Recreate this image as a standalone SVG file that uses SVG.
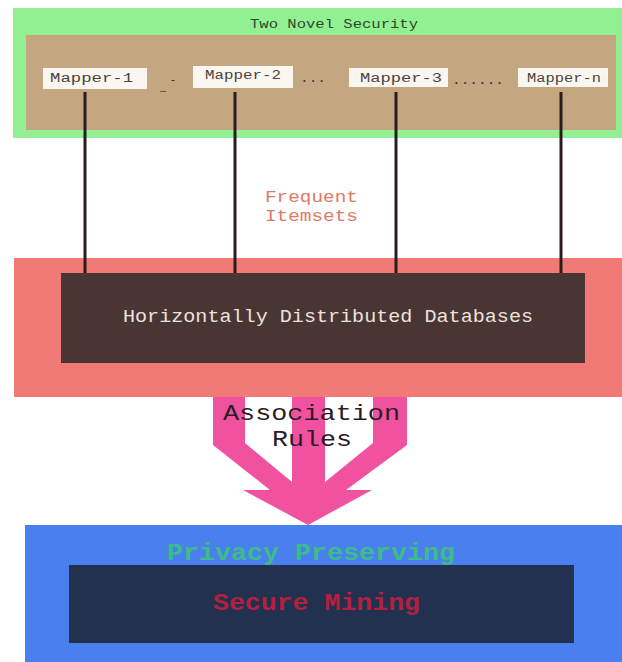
<svg xmlns="http://www.w3.org/2000/svg" width="622" height="662" viewBox="0 0 622 662">
<style>
text { font-family: "Liberation Mono", "DejaVu Sans Mono", monospace; }
.mapbox { fill: #faf6f0; }
.maptxt { font-size: 12px; fill: #4a4440; }
.link { stroke: #2a1c1c; stroke-width: 3; fill: none; }
.dots { font-size: 13px; fill: #3a3430; }
</style>
<rect width="622" height="662" fill="#ffffff"/>

<g id="security-panel">
  <rect x="13" y="8" width="609" height="130" fill="#92f092"/>
  <rect x="26" y="35" width="590" height="95" fill="#c4a680"/>
  <text x="334" y="28" text-anchor="middle" font-size="13" textLength="168" lengthAdjust="spacingAndGlyphs" fill="#2c4a2c">Two Novel Security</text>
  <text x="160" y="90" class="dots" textLength="6" lengthAdjust="spacingAndGlyphs">_</text>
  <text x="170" y="84" class="dots" textLength="6" lengthAdjust="spacingAndGlyphs">-</text>
  <text x="300" y="82" class="dots" textLength="26" lengthAdjust="spacingAndGlyphs">...</text>
  <text x="452" y="84" class="dots" textLength="52" lengthAdjust="spacingAndGlyphs" fill="#8a7a66">......</text>
</g>

<g id="mapper-1">
  <rect class="mapbox" x="43" y="68" width="104" height="21"/>
  <text class="maptxt" x="50" y="82" textLength="83" lengthAdjust="spacingAndGlyphs">Mapper-1</text>
</g>
<g id="mapper-2">
  <rect class="mapbox" x="193" y="66" width="100" height="22"/>
  <text class="maptxt" x="205" y="79" textLength="76" lengthAdjust="spacingAndGlyphs">Mapper-2</text>
</g>
<g id="mapper-3">
  <rect class="mapbox" x="349" y="68" width="99" height="19"/>
  <text class="maptxt" x="360" y="82" textLength="82" lengthAdjust="spacingAndGlyphs">Mapper-3</text>
</g>
<g id="mapper-n">
  <rect class="mapbox" x="518" y="68" width="90" height="19"/>
  <text class="maptxt" x="527" y="82" textLength="74" lengthAdjust="spacingAndGlyphs">Mapper-n</text>
</g>

<g id="frequent-itemsets-label">
  <text x="265" y="202" font-size="17" textLength="93" lengthAdjust="spacingAndGlyphs" fill="#e07a66">Frequent</text>
  <text x="265" y="221" font-size="17" textLength="93" lengthAdjust="spacingAndGlyphs" fill="#e07a66">Itemsets</text>
</g>

<g id="databases">
  <rect x="14" y="258" width="608" height="139" fill="#f27a76"/>
  <rect x="61" y="273" width="524" height="90" fill="#4a3535"/>
  <text x="123" y="322" font-size="18" textLength="410" lengthAdjust="spacingAndGlyphs" fill="#ece2dc">Horizontally Distributed Databases</text>
</g>

<g id="privacy-preserving">
  <rect x="25" y="525" width="597" height="137" fill="#4a80ee"/>
  <text x="167" y="560" font-size="23" font-weight="bold" textLength="288" lengthAdjust="spacingAndGlyphs" fill="#3dbb88">Privacy Preserving</text>
</g>
<g id="secure-mining">
  <rect x="69" y="565" width="505" height="78" fill="#22314f"/>
  <text x="213" y="610" font-size="23" font-weight="bold" textLength="207" lengthAdjust="spacingAndGlyphs" fill="#b3203e">Secure Mining</text>
</g>

<g id="connectors">
  <line class="link" x1="85" y1="92" x2="85" y2="273"/>
  <line class="link" x1="235" y1="92" x2="235" y2="273"/>
  <line class="link" x1="396" y1="92" x2="396" y2="273"/>
  <line class="link" x1="561" y1="92" x2="561" y2="273"/>
  <polygon fill="#f052a0" points="213,397 245,397 245,443 292,482 292,397 325,397 325,482 373,443 373,397 407,397 407,445 346,490 372,490 308,525 243,490 270,490 213,445"/>
</g>

<g id="association-rules-label">
  <text x="223" y="420" font-size="22" textLength="177" lengthAdjust="spacingAndGlyphs" fill="#2e1a26">Association</text>
  <text x="272" y="446" font-size="22" textLength="80" lengthAdjust="spacingAndGlyphs" fill="#2e1a26">Rules</text>
</g>
</svg>
